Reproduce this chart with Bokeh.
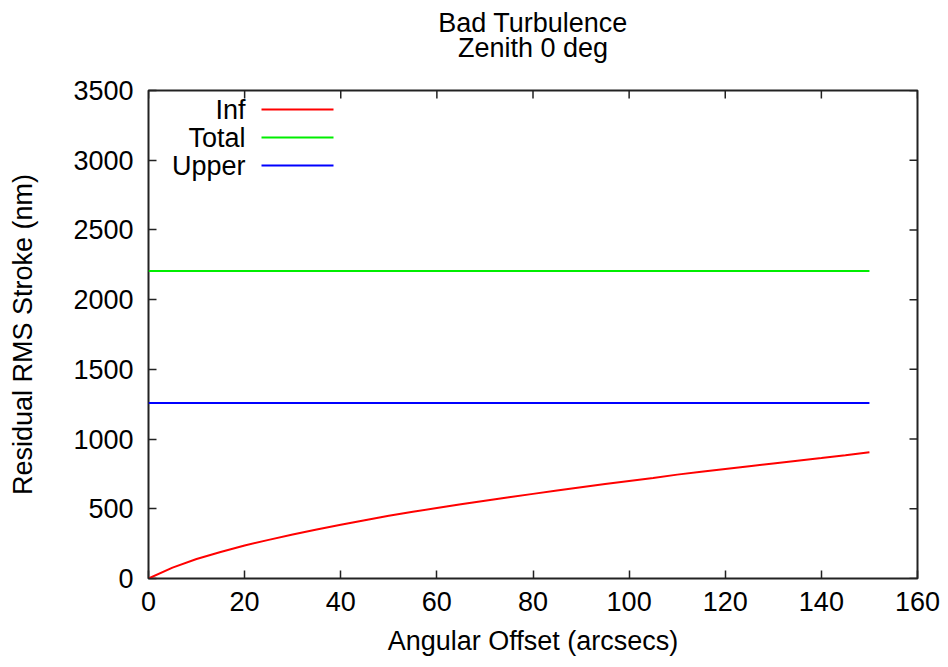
from bokeh.plotting import figure
from bokeh.models import Range1d, FixedTicker, Label, Arrow, LinearAxis
from bokeh.embed import file_html
from bokeh.resources import INLINE

# ---- data ----
offset = [0, 5, 10, 15, 20, 25, 30, 35, 40, 45, 50, 55, 60, 65, 70, 75,
          80, 85, 90, 95, 100, 105, 110, 115, 120, 125, 130, 135, 140, 145, 150]
inf_vals = [0, 78, 140, 190, 237, 277, 316, 351, 385, 418, 450, 478, 505, 532,
            558, 583, 607, 631, 654, 677, 699, 721, 745, 765, 785, 805, 825,
            845, 864, 884, 906]
total_vals = [2205] * len(offset)
upper_vals = [1258] * len(offset)

series_names = ["Inf", "Total", "Upper"]
series_colors = ["#ff0000", "#00ee00", "#0000ff"]
title_lines = ["Bad Turbulence", "Zenith 0 deg"]

x_ticks = [0, 20, 40, 60, 80, 100, 120, 140, 160]
y_ticks = [0, 500, 1000, 1500, 2000, 2500, 3000, 3500]
X_MIN, X_MAX = 0, 160
Y_MIN, Y_MAX = 0, 3500

FONT = "Liberation Sans"
FS = "27px"

W, H = 945, 665
B_LEFT, B_RIGHT, B_TOP, B_BOTTOM = 148, 28, 90, 87
FRAME_W = W - B_LEFT - B_RIGHT
FRAME_H = H - B_TOP - B_BOTTOM
TICK_PX = 8

p = figure(width=W, height=H, output_backend="svg", toolbar_location=None,
           x_range=Range1d(X_MIN, X_MAX), y_range=Range1d(Y_MIN, Y_MAX),
           min_border_left=B_LEFT, min_border_right=B_RIGHT,
           min_border_bottom=B_BOTTOM, min_border_top=B_TOP,
           background_fill_color="white", border_fill_color="white")
p.grid.visible = False
p.outline_line_color = "#222222"
p.outline_line_width = 2

for ax in (p.xaxis[0], p.yaxis[0]):
    ax.major_tick_in = TICK_PX
    ax.major_tick_out = 0
    ax.minor_tick_line_color = None
    ax.axis_line_color = None
    ax.major_tick_line_color = "#222222"
    ax.major_tick_line_width = 1.5
    ax.major_label_text_font = FONT
    ax.major_label_text_font_size = FS
    ax.major_label_text_color = "black"
    ax.axis_label_text_font = FONT
    ax.axis_label_text_font_size = FS
    ax.axis_label_text_font_style = "normal"
    ax.axis_label_text_color = "black"

p.xaxis[0].ticker = FixedTicker(ticks=x_ticks)
p.yaxis[0].ticker = FixedTicker(ticks=y_ticks)
p.xaxis[0].axis_label = "Angular Offset (arcsecs)"
p.yaxis[0].axis_label = "Residual RMS Stroke (nm)"
p.xaxis[0].major_label_standoff = 13
p.xaxis[0].axis_label_standoff = 12
p.yaxis[0].major_label_standoff = 15
p.yaxis[0].axis_label_standoff = 32

# mirrored tick marks on top and right edges (gnuplot style)
dy = TICK_PX * (Y_MAX - Y_MIN) / FRAME_H
dx = TICK_PX * (X_MAX - X_MIN) / FRAME_W
p.segment(x0=x_ticks, y0=[Y_MAX] * len(x_ticks), x1=x_ticks,
          y1=[Y_MAX - dy] * len(x_ticks), line_color="#222222", line_width=1.5)
p.segment(x0=[X_MAX] * len(y_ticks), y0=y_ticks, x1=[X_MAX - dx] * len(y_ticks),
          y1=y_ticks, line_color="#222222", line_width=1.5)

# two-line centred title: tick-less axes above the frame carry the lines
for text, standoff in ((title_lines[1], 28), (title_lines[0], -8)):
    ax = LinearAxis(ticker=FixedTicker(ticks=[]), axis_label=text,
                    axis_label_standoff=standoff)
    ax.major_tick_in = 0
    ax.major_tick_out = 0
    ax.minor_tick_line_color = None
    ax.major_tick_line_color = None
    ax.axis_line_color = None
    ax.axis_label_text_font = FONT
    ax.axis_label_text_font_size = FS
    ax.axis_label_text_font_style = "normal"
    ax.axis_label_text_color = "black"
    p.add_layout(ax, "above")

# series
p.line(offset, inf_vals, line_color=series_colors[0], line_width=2)
p.line(offset, total_vals, line_color=series_colors[1], line_width=2)
p.line(offset, upper_vals, line_color=series_colors[2], line_width=2)

# legend (gnuplot-style: label right-aligned, sample line to its right)
for i, (name, col) in enumerate(zip(series_names, series_colors)):
    ys = FRAME_H - 19 - 28 * i
    p.add_layout(Label(x=97, y=ys, x_units="screen", y_units="screen",
                       text=name, text_align="right", text_baseline="middle",
                       text_font=FONT, text_font_size=FS,
                       text_color="black"))
    p.add_layout(Arrow(end=None, x_start=113, y_start=ys, x_end=185, y_end=ys,
                       start_units="screen", end_units="screen",
                       line_color=col, line_width=2))

open("out.html", "w").write(file_html(p, INLINE))
